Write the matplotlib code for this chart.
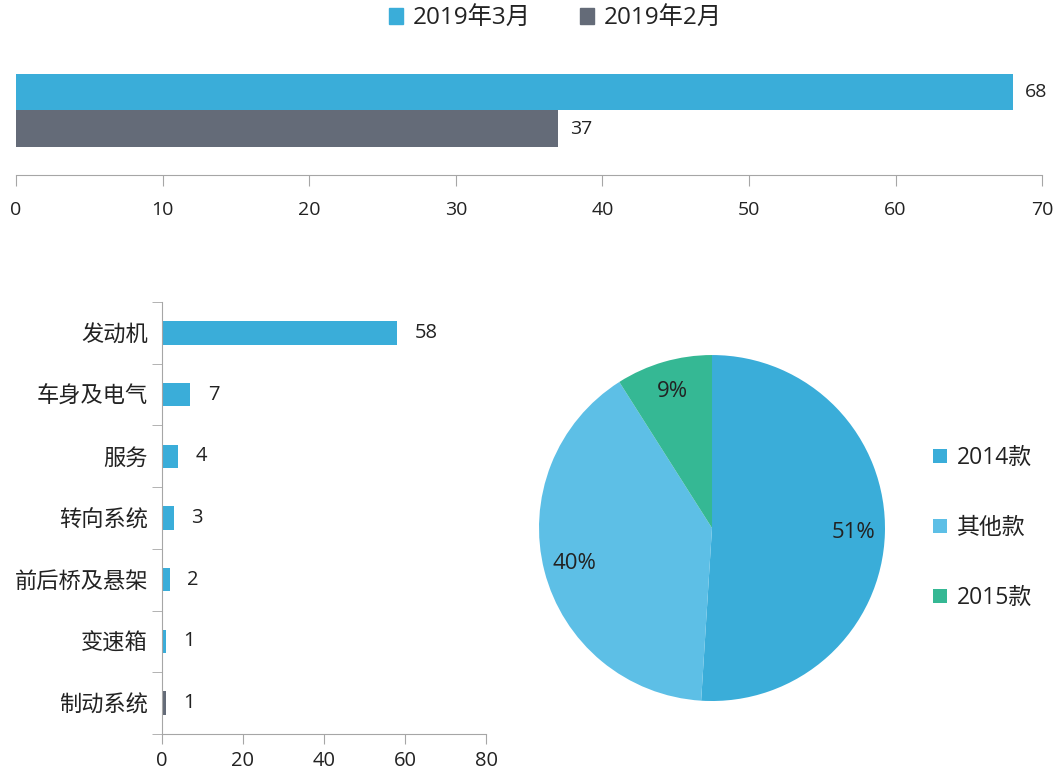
import matplotlib
matplotlib.use("Agg")
import matplotlib.pyplot as plt
from matplotlib.patches import Patch
import numpy as np

plt.rcParams['font.family'] = ['Open Sans', 'Noto Sans CJK SC', 'DejaVu Sans']

# top chart
months = ['2019年3月', '2019年2月']
month_vals = [68, 37]
month_colors = ['#3AADD9', '#646B78']

# bottom left chart
parts = ['发动机', '车身及电气', '服务', '转向系统', '前后桥及悬架', '变速箱', '制动系统']
part_vals = [58, 7, 4, 3, 2, 1, 1]
part_colors = ['#3AADD9'] * 6 + ['#646B78']

# pie chart
models = ['2014款', '其他款', '2015款']
model_share = [51, 40, 9]
model_colors = ['#3AADD9', '#5DBFE6', '#35B894']

txt = '#222222'
axc = '#A6A6A6'

fig = plt.figure(figsize=(10.6, 7.74), dpi=100)

# ---- top bars
ax1 = fig.add_axes([0.0151, 0.774, 0.968, 0.1486])
ypos = [1, 0]
ax1.barh(ypos, month_vals, height=1.0, color=month_colors)
for y, v in zip(ypos, month_vals):
    ax1.text(v + 0.8, y, str(v), va='center', ha='left', fontsize=14, color=txt)
ax1.set_xlim(0, 70)
ax1.set_ylim(-1.27, 1.88)
ax1.set_xticks(range(0, 71, 10))
ax1.set_yticks([])
for s in ['left', 'right', 'top']:
    ax1.spines[s].set_visible(False)
ax1.spines['bottom'].set_color(axc)
ax1.tick_params(axis='x', length=8, color=axc, labelsize=14, labelcolor=txt, pad=11)

handles = [Patch(color=c, label=m) for m, c in zip(months, month_colors)]
fig.legend(handles=handles, loc='center', bbox_to_anchor=(0.524, 0.976), ncol=2,
           frameon=False, fontsize=17.5, handlelength=0.6, handleheight=0.6,
           handletextpad=0.4, columnspacing=2.0, labelcolor=txt)

# ---- bottom left bars
ax2 = fig.add_axes([0.1528, 0.0517, 0.3057, 0.5581])
yp = np.arange(len(parts))
ax2.barh(yp, part_vals, height=0.38, color=part_colors)
for y, v in zip(yp, part_vals):
    ax2.text(v + 4.3, y, str(v), va='center', ha='left', fontsize=14.5, color=txt)
ax2.set_xlim(0, 80)
ax2.set_ylim(len(parts) - 0.5, -0.5)
ax2.set_xticks(range(0, 81, 20))
ax2.set_yticks(yp)
ax2.set_yticklabels(parts)
ax2.set_yticks(np.arange(-0.5, len(parts), 1), minor=True)
for s in ['right', 'top']:
    ax2.spines[s].set_visible(False)
ax2.spines['left'].set_color(axc)
ax2.spines['bottom'].set_color(axc)
ax2.tick_params(axis='y', which='major', length=0, labelsize=16, labelcolor=txt, pad=10)
ax2.tick_params(axis='y', which='minor', length=7, color=axc)
ax2.tick_params(axis='x', length=7, color=axc, labelsize=14.5, labelcolor=txt, pad=5)

# ---- pie
ax3 = fig.add_axes([0.5085, 0.0943, 0.3264, 0.447])
wedges, _, autotexts = ax3.pie(model_share, colors=model_colors, startangle=90, counterclock=False,
                               autopct='%d%%', pctdistance=0.82, radius=1.0,
                               textprops={'fontsize': 16, 'color': txt})
ax3.set_xlim(-1, 1)
ax3.set_ylim(-1, 1)
ax3.legend(wedges, models, loc='center left', bbox_to_anchor=(1.08, 0.5), frameon=False,
           fontsize=16.5, handlelength=0.6, handleheight=0.6, handletextpad=0.45,
           labelspacing=2.0, labelcolor=txt)

fig.savefig('out.png', dpi=100)
